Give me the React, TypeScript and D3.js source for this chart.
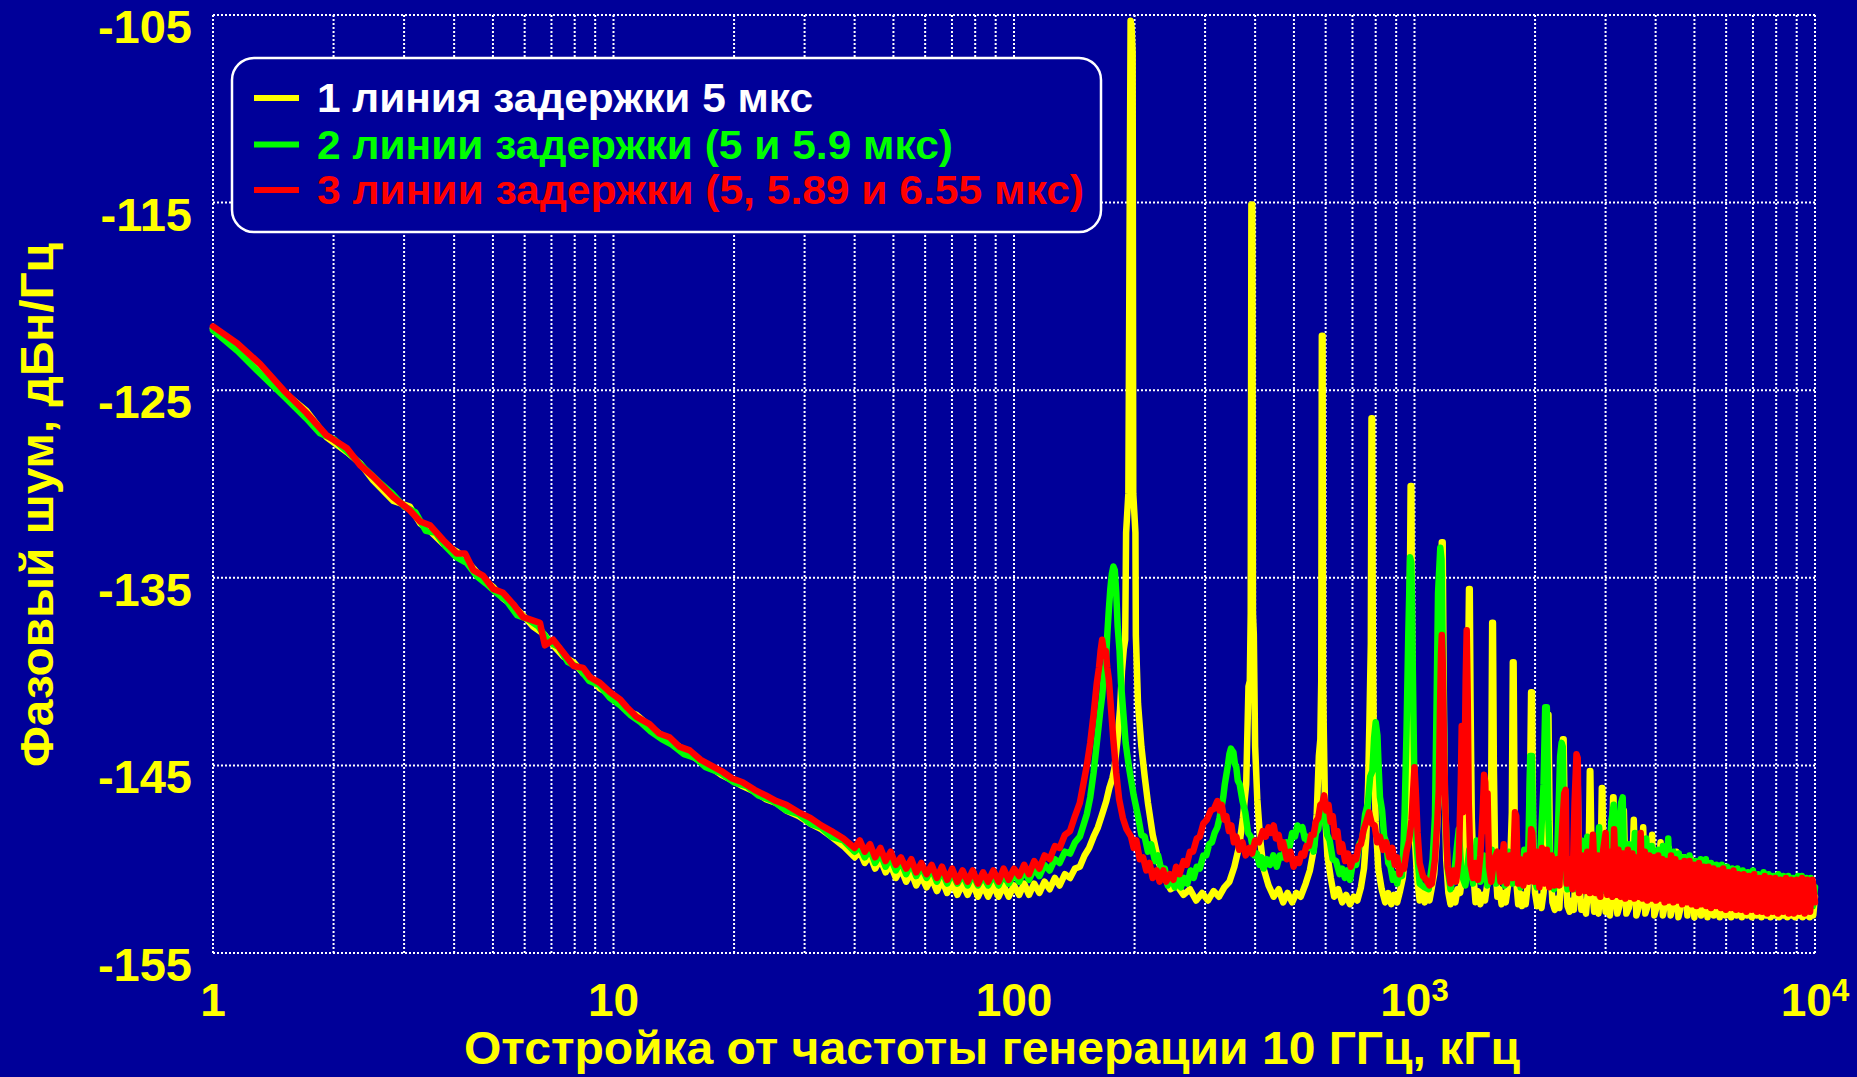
import React from 'react';
import * as d3 from 'd3';

// Phase noise of a 10 GHz oscillator with one, two and three delay lines.
// Offset frequency in kHz, phase noise in dBc/Hz.

const yTickValues = [-105, -115, -125, -135, -145, -155];
const xTickValues = [1, 10, 100, 1000, 10000];
const xTickBase = ['1', '10', '100', '10', '10'];
const xTickSup = ['', '', '', '3', '4'];

const legendLabels = [
  '1 линия задержки 5 мкс',
  '2 линии задержки (5 и 5.9 мкс)',
  '3 линии задержки (5, 5.89 и 6.55 мкс)',
];
const xTitle = 'Отстройка от частоты генерации 10 ГГц, кГц';
const yTitle = 'Фазовый шум, дБн/Гц';

type Pt = [number, number];

const yellowTrace: Pt[] = [
  [1, -121.7], [1.15, -122.7], [1.31, -123.9], [1.5, -125.1], [1.71, -126.1], [1.92, -127.5], [2.16, -128.3],
  [2.33, -128.9], [2.51, -129.8], [2.82, -130.9], [3.1, -131.2], [3.29, -132.1], [3.48, -132.5], [3.76, -133.2],
  [4.06, -133.6], [4.26, -134.0], [4.47, -134.5], [4.73, -135.1], [5.01, -135.5], [5.3, -136.1], [5.62, -136.5],
  [5.95, -137.0], [6.3, -137.6], [6.7, -138.0], [7.07, -138.6], [7.5, -139.2], [7.95, -139.5], [8.4, -140.1],
  [8.74, -140.3], [9.25, -140.9], [9.8, -141.2], [10.4, -141.6], [10.8, -142.1], [11.4, -142.3], [12.3, -142.9],
  [13.0, -143.3], [13.8, -143.7], [14.6, -144.0], [15.5, -144.4], [16.5, -144.8], [17.5, -145.1], [18.6, -145.5],
  [19.8, -145.8], [21, -146.1], [22.5, -146.4], [24, -146.8], [25.5, -147.0], [27, -147.4], [29, -147.7],
  [31, -148.1], [33, -148.4], [35, -148.8], [37.5, -149.3],
  [40, -149.9], [41.2, -149.6], [42.4, -150.2], [43.7, -149.8], [45, -150.5], [46.4, -150.0], [47.8, -150.7],
  [49.2, -150.3], [50.7, -151.0], [52.2, -150.5], [53.8, -151.2], [55.4, -150.7], [57, -151.4], [58.7, -150.9],
  [60.5, -151.5], [62.3, -151.0], [64.2, -151.7], [66.1, -151.1], [68.1, -151.8], [70.1, -151.2], [72.2, -151.9],
  [74.4, -151.3], [76.6, -151.9], [78.9, -151.3], [81.3, -152.0], [83.7, -151.4], [86.2, -152.0], [88.8, -151.4],
  [91.5, -152.0], [94.2, -151.4], [97, -152.0], [100, -151.4], [103, -151.9], [106, -151.3], [109, -151.9],
  [112.3, -151.3], [115.7, -151.8], [119.2, -151.2], [122.8, -151.6], [126.5, -151.0], [130, -151.4],
  [134, -150.8], [138, -151.0], [142, -150.5], [146, -150.4], [150, -149.8], [154, -149.4], [158, -148.8],
  [162, -148.3], [166, -147.6], [170, -146.9], [173, -146.2], [176, -145.7], [178, -145.2], [181, -143.8],
  [184, -142.0], [186, -140.0], [188, -138.8],
  [189.5, -138.3], [190.5, -132.6], [193, -130.5], [195.5, -105.3], [196.5, -105.6], [197.8, -107.0],
  [198.5, -130.5], [201, -132.6], [201.5, -138.1], [204, -141.7], [208, -144.0], [212, -145.6], [216, -147.0],
  [222, -148.7], [230, -150.2], [238, -151.0], [246, -151.6], [255, -151.4], [265, -151.9], [275, -151.6],
  [285, -152.2], [295, -151.8], [305, -152.2], [315, -151.7], [325, -152.0], [335, -151.5], [345, -151.2],
  [355, -150.4], [365, -149.3], [373, -147.8], [380, -146.0], [385, -140.8], [388, -140.5], [390, -136.9],
  [391.5, -115.1], [393.5, -115.1], [395, -136.9], [397, -138.0], [400, -144.0], [405, -146.8], [412, -149.0],
  [420, -150.5], [432, -151.4], [445, -152.0], [458, -151.6], [470, -152.3], [482, -151.8], [495, -152.3],
  [507, -151.8], [520, -152.0], [535, -151.3], [548, -150.6], [560, -149.5], [570, -147.6], [577, -144.5],
  [582, -143.6], [585, -140.5], [587, -122.1], [589.5, -122.1], [591, -140.5], [594, -143.5], [598, -147.5],
  [606, -149.8], [618, -151.0], [630, -152.0], [645, -151.6], [660, -152.3], [675, -151.9], [690, -152.4],
  [705, -152.0], [720, -152.2], [735, -151.5], [748, -150.5], [758, -148.8], [766, -146.0], [772, -142.5],
  [778, -138.5], [781, -126.5], [784, -126.5], [787, -139.0], [792, -144.2], [800, -148.0], [812, -150.5],
  [828, -151.6], [845, -152.3], [860, -151.8], [875, -152.4], [890, -151.9], [905, -152.3], [920, -151.7],
  [935, -151.0], [950, -149.5], [962, -147.0], [970, -142.5], [975, -134.0], [978, -130.1], [982, -130.1],
  [986, -139.0], [992, -145.0], [1000, -148.5], [1015, -151.0], [1030, -152.2], [1045, -151.7], [1060, -152.3],
  [1075, -151.8], [1090, -152.2], [1105, -151.5], [1120, -150.8], [1135, -149.0], [1148, -146.5],
  [1158, -141.0], [1165, -136.0], [1170, -133.1], [1176, -133.1], [1182, -140.0], [1190, -146.5],
  [1200, -150.0], [1215, -151.8], [1230, -152.4], [1248, -151.8], [1265, -152.3], [1280, -151.6],
  [1300, -151.8], [1320, -150.6], [1340, -148.5], [1355, -144.0], [1362, -139.0], [1368, -135.6],
  [1374, -135.6], [1380, -141.5], [1390, -147.8], [1405, -151.0], [1420, -152.3], [1440, -151.7],
  [1460, -152.4], [1480, -151.9], [1500, -152.2], [1520, -151.3], [1540, -149.5], [1555, -145.5],
  [1563, -137.4], [1570, -137.4], [1578, -145.0], [1590, -150.0], [1610, -152.0], [1630, -151.6],
  [1650, -152.4], [1670, -151.8], [1690, -152.3], [1710, -151.5], [1730, -150.8], [1750, -147.5],
  [1760, -139.5], [1768, -139.5], [1778, -147.5], [1795, -151.2], [1815, -152.4], [1835, -151.8],
  [1855, -152.5], [1875, -151.9], [1895, -152.4], [1915, -151.5], [1935, -149.5], [1955, -141.1],
  [1965, -141.1], [1980, -149.5], [2000, -151.8], [2025, -152.5], [2050, -152.0], [2075, -152.6],
  [2100, -151.8], [2130, -150.0], [2150, -142.3], [2160, -142.3], [2180, -150.0], [2210, -152.3],
  [2240, -152.7], [2270, -152.1], [2300, -152.6], [2325, -150.5], [2347, -143.6], [2357, -143.6],
  [2380, -150.5], [2410, -152.5], [2440, -152.8], [2470, -152.2], [2500, -152.7], [2525, -150.8],
  [2544, -144.8], [2552, -144.8], [2575, -151.0], [2610, -152.7], [2645, -152.3], [2680, -152.9],
  [2715, -151.5], [2740, -145.3], [2748, -145.3], [2775, -151.5], [2810, -152.8], [2845, -152.3],
  [2880, -152.9], [2910, -151.5], [2936, -146.2], [2944, -146.2], [2970, -151.7], [3000, -152.8],
  [3040, -152.4], [3075, -153.0], [3105, -151.6], [3132, -146.7], [3140, -146.7], [3170, -151.8],
  [3210, -152.9], [3250, -152.5], [3290, -151.8], [3332, -147.4], [3380, -152.9], [3430, -152.6],
  [3480, -151.9], [3528, -147.9], [3580, -153.0], [3626, -152.6], [3676, -152.0], [3724, -148.3],
  [3770, -152.9], [3822, -152.5], [3870, -151.9], [3920, -148.7], [3970, -153.0], [4018, -152.6],
  [4116, -149.1], [4170, -153.0], [4214, -152.5], [4312, -149.4], [4360, -153.0], [4410, -152.6],
  [4508, -149.6], [4560, -153.1], [4606, -152.7], [4704, -149.9], [4802, -153.0], [4900, -150.0],
  [4998, -153.1], [5096, -150.2], [5194, -153.0], [5292, -150.3], [5390, -153.1], [5488, -150.5],
  [5586, -153.0], [5684, -150.6], [5782, -153.1], [5880, -150.7], [5978, -153.0], [6076, -150.8],
  [6174, -153.1], [6272, -150.9], [6370, -153.0], [6468, -151.0], [6566, -153.1], [6664, -151.1],
  [6762, -153.0], [6860, -151.1], [6958, -153.1], [7056, -151.2], [7154, -153.0], [7252, -151.3],
  [7350, -153.1], [7448, -151.3], [7546, -153.0], [7644, -151.4], [7742, -153.1], [7840, -151.4],
  [7938, -153.0], [8036, -151.5], [8134, -153.1], [8232, -151.5], [8330, -153.0], [8428, -151.6],
  [8526, -153.1], [8624, -151.6], [8722, -153.0], [8820, -151.7], [8918, -153.1], [9016, -151.7],
  [9114, -153.0], [9212, -151.8], [9310, -153.1], [9408, -151.8], [9506, -153.0], [9604, -151.8],
  [9702, -153.1], [9800, -151.9], [9898, -153.0], [9996, -152.0],
];

const greenTrace: Pt[] = [
  [1, -121.8], [1.15, -122.9], [1.31, -124.1], [1.5, -125.3], [1.71, -126.5], [1.85, -127.3], [2.0, -127.6],
  [2.2, -128.4], [2.4, -129.2], [2.6, -129.9], [2.8, -130.5], [3.0, -131.2], [3.2, -131.5], [3.4, -132.5],
  [3.6, -132.6], [3.8, -133.3], [4.05, -133.9], [4.3, -134.2], [4.55, -134.9], [4.8, -135.3], [5.1, -135.8],
  [5.4, -136.2], [5.75, -137.0], [6.1, -137.2], [6.5, -137.6], [6.9, -138.4], [7.3, -138.7], [7.7, -139.5],
  [8.2, -139.8], [8.7, -140.5], [9.2, -140.7], [9.8, -141.4], [10.4, -141.8], [11.0, -142.3], [11.7, -142.7],
  [12.4, -143.2], [13.2, -143.6], [14.0, -143.9], [15.0, -144.4], [16.0, -144.6], [17.0, -145.1],
  [18.5, -145.4], [20, -145.9], [21.5, -146.1], [23, -146.6], [25, -146.9], [27, -147.4], [29, -147.6],
  [31, -148.1], [33, -148.3], [35, -148.8], [37.5, -149.0],
  [40, -149.6], [41.2, -149.3], [42.4, -149.9], [43.7, -149.5], [45, -150.2], [46.4, -149.7], [47.8, -150.4],
  [49.2, -149.9], [50.7, -150.6], [52.2, -150.1], [53.8, -150.8], [55.4, -150.2], [57, -150.9], [58.7, -150.4],
  [60.5, -151.0], [62.3, -150.5], [64.2, -151.2], [66.1, -150.6], [68.1, -151.3], [70.1, -150.7], [72.2, -151.3],
  [74.4, -150.8], [76.6, -151.4], [78.9, -150.8], [81.3, -151.4], [83.7, -150.9], [86.2, -151.4], [88.8, -150.8],
  [91.5, -151.4], [94.2, -150.8], [97, -151.3], [100, -150.8], [103, -151.2], [106, -150.6], [109, -151.1],
  [112.3, -150.5], [115.7, -150.9], [119.2, -150.3], [122.8, -150.6], [126.5, -150.0], [130, -150.2],
  [134, -149.6], [138, -149.7], [142, -149.1], [146, -148.8], [149, -148.2], [152, -147.6], [155, -146.7],
  [158, -145.4], [161, -143.8], [164, -142.2], [166, -141.3], [168, -140.0], [169.5, -139.6], [171, -138.0],
  [172.5, -136.7], [174, -135.6], [175.5, -134.8], [177, -134.4], [178.5, -134.6], [180, -135.8],
  [181.5, -137.6], [183.5, -138.9], [185, -140.6], [187, -141.9], [190, -143.8], [194, -145.2],
  [199, -146.6], [204, -147.7], [208, -148.7], [212, -148.8], [216, -149.6], [220, -149.2], [225, -150.1],
  [229, -149.8], [234, -150.7], [238, -150.5], [242, -151.4], [247, -150.9], [252, -151.5], [256, -150.9],
  [261, -151.5], [266, -151.0], [271, -151.3], [276, -150.6], [281, -151.0], [286, -150.4], [291, -150.5],
  [297, -149.8], [302, -149.8], [307, -149.2], [312, -149.1], [317, -148.6], [322, -148.3], [326, -147.8],
  [330, -147.2], [333, -146.7], [336, -146.0], [339, -145.5], [342, -145.0], [345, -144.4], [348, -144.1],
  [350, -144.2], [353, -144.3], [356, -144.9], [359, -145.1], [362, -145.8], [366, -146.0], [372, -146.9],
  [378, -147.5], [384, -148.6], [390, -148.8], [398, -149.8], [404, -149.7], [410, -150.3], [415, -149.9],
  [420, -150.5], [428, -150.0], [436, -150.3], [444, -149.8], [453, -150.4], [461, -149.8], [470, -149.9],
  [479, -149.1], [488, -149.3], [495, -148.6], [503, -148.8], [510, -148.2], [518, -148.4], [525, -148.3],
  [532, -148.9], [538, -148.8], [545, -149.4], [552, -149.0], [560, -149.6], [567, -148.6], [575, -148.4],
  [582, -147.5], [590, -147.2], [597, -147.6], [605, -148.7], [614, -149.0], [625, -150.0], [637, -150.1],
  [650, -150.8], [660, -150.5], [670, -151.0], [680, -150.6], [690, -151.1], [702, -150.2], [715, -150.3],
  [728, -149.2], [741, -148.9], [753, -147.6], [765, -147.0], [775, -145.6], [785, -145.3], [793, -143.5],
  [800, -142.7], [808, -143.4], [814, -145.2], [820, -146.7], [830, -147.4], [840, -148.8], [850, -149.1],
  [860, -150.2], [871, -150.4], [883, -151.1], [894, -150.8], [905, -151.3], [918, -150.6], [930, -150.9],
  [940, -149.0], [945, -147.5], [955, -143.3], [965, -138.0], [975, -133.9], [982, -134.2], [990, -139.7],
  [998, -145.0], [1010, -149.0], [1030, -151.3], [1060, -151.5], [1085, -151.6], [1110, -150.0],
  [1125, -147.7], [1135, -142.0], [1145, -135.8], [1160, -133.4], [1168, -134.0], [1180, -141.0],
  [1192, -147.0], [1210, -150.5], [1230, -151.6], [1260, -150.5], [1290, -148.4], [1310, -150.8],
  [1340, -151.4], [1370, -149.5], [1400, -151.3], [1430, -149.0], [1460, -151.2], [1490, -149.8],
  [1520, -151.4], [1560, -149.5], [1600, -151.3], [1640, -149.8], [1680, -151.4], [1720, -149.6],
  [1760, -151.3], [1800, -149.9], [1840, -151.5], [1880, -149.5], [1920, -150.5], [1945, -144.5],
  [1965, -144.5], [1985, -150.8], [2020, -151.5], [2060, -149.8], [2100, -146.0], [2120, -141.9],
  [2140, -141.9], [2160, -148.0], [2190, -151.2], [2230, -151.6], [2270, -150.0], [2310, -144.5],
  [2330, -143.8], [2345, -144.0], [2370, -150.5], [2410, -151.6], [2450, -150.0], [2490, -151.6],
  [2530, -149.5], [2570, -151.7], [2610, -149.0], [2650, -151.5], [2700, -148.8], [2740, -151.6],
  [2790, -149.2], [2840, -151.6], [2890, -148.3], [2940, -151.7], [2990, -149.6], [3040, -151.7],
  [3100, -148.0], [3143, -147.1], [3180, -151.5], [3230, -148.5], [3280, -147.0], [3310, -146.7],
  [3340, -150.5], [3380, -151.8], [3430, -149.2], [3490, -151.8], [3550, -148.6], [3610, -151.8],
  [3670, -149.0], [3730, -151.9], [3790, -148.9], [3850, -151.9], [3910, -149.3], [3980, -152.0],
  [4050, -149.5], [4110, -151.9], [4170, -149.3], [4240, -152.0], [4300, -148.9], [4360, -152.0],
  [4430, -149.6], [4500, -152.0], [4570, -149.7], [4640, -152.1], [4710, -149.9], [4780, -152.0],
  [4860, -149.8], [4940, -152.1], [5020, -150.1], [5100, -152.1], [5180, -150.0], [5260, -152.2],
  [5340, -150.0], [5420, -152.2], [5500, -150.2], [5580, -152.2], [5670, -150.3], [5760, -152.2],
  [5850, -150.3], [5940, -152.3], [6030, -150.4], [6120, -152.2], [6210, -150.5], [6300, -152.3],
  [6400, -150.5], [6500, -152.3], [6600, -150.6], [6700, -152.3], [6800, -150.7], [6900, -152.4],
  [7000, -150.6], [7110, -152.3], [7220, -150.8], [7330, -152.4], [7440, -150.7], [7550, -152.4],
  [7660, -150.8], [7770, -152.4], [7880, -150.9], [7990, -152.5], [8100, -150.8], [8220, -152.4],
  [8340, -150.9], [8460, -152.5], [8580, -150.9], [8700, -152.4], [8820, -151.0], [8940, -152.5],
  [9060, -150.9], [9180, -152.4], [9270, -150.9], [9400, -152.5], [9520, -151.0], [9640, -152.4],
  [9760, -151.0], [9880, -152.5], [10000, -151.5],
];

const redTrace: Pt[] = [
  [1, -121.6], [1.15, -122.5], [1.31, -123.6], [1.5, -125.0], [1.71, -126.2], [1.92, -127.4], [2.16, -128.1],
  [2.33, -129.0], [2.51, -129.6], [2.82, -130.7], [3.1, -131.4], [3.29, -132.0], [3.48, -132.2], [3.76, -133.0],
  [4.06, -133.7], [4.26, -133.7], [4.47, -134.6], [4.73, -134.9], [5.01, -135.6], [5.3, -135.8], [5.62, -136.4],
  [5.95, -137.1], [6.55, -137.4], [6.74, -138.6], [7.07, -138.3], [7.5, -139.0], [7.95, -139.7], [8.4, -139.8],
  [8.74, -140.3], [9.25, -140.6], [9.8, -141.1], [10.4, -141.5], [10.8, -141.9], [11.4, -142.4],
  [12.3, -142.8], [13.0, -143.3], [13.8, -143.5], [14.6, -144.0], [15.5, -144.2], [16.5, -144.7],
  [17.5, -145.0], [18.6, -145.3], [19.8, -145.7], [21, -145.9], [22.5, -146.3], [24, -146.6], [25.5, -146.9],
  [27, -147.1], [29, -147.5], [31, -147.8], [33, -148.2], [35, -148.5], [37.5, -148.9],
  [40, -149.4], [41.2, -149.0], [42.4, -149.6], [43.7, -149.2], [45, -149.9], [46.4, -149.4], [47.8, -150.1],
  [49.2, -149.6], [50.7, -150.3], [52.2, -149.9], [53.8, -150.5], [55.4, -150.0], [57, -150.7], [58.7, -150.2],
  [60.5, -150.8], [62.3, -150.3], [64.2, -151.0], [66.1, -150.4], [68.1, -151.1], [70.1, -150.5], [72.2, -151.2],
  [74.4, -150.6], [76.6, -151.2], [78.9, -150.6], [81.3, -151.3], [83.7, -150.7], [86.2, -151.2], [88.8, -150.6],
  [91.5, -151.2], [94.2, -150.5], [97, -151.1], [100, -150.5], [103, -150.9], [106, -150.3], [109, -150.8],
  [112.3, -150.1], [115.7, -150.5], [119.2, -149.8], [122.8, -150.0], [126.5, -149.3], [130, -149.4],
  [134, -148.7], [138, -148.5], [142, -147.7], [146, -147.0], [149, -146.0], [152, -145.0],
  [155, -143.8], [158, -142.3], [161, -140.6], [163, -139.8], [164.5, -138.9], [166, -138.3],
  [167.5, -138.9], [169.5, -138.9], [171, -139.8], [172.5, -140.4], [175, -142.2], [177, -143.6],
  [180, -145.4], [183, -146.8], [187, -147.8], [191, -148.4], [196, -148.8], [199, -149.4], [202, -149.0],
  [206, -150.0], [210, -149.9], [214, -150.6], [218, -150.2], [222, -151.0], [227, -150.6], [231, -151.2],
  [236, -150.6], [240, -151.2], [245, -150.8], [250, -151.1], [254, -150.4], [259, -150.8], [265, -150.1],
  [270, -150.3], [275, -149.6], [280, -149.6], [286, -148.9], [291, -148.8], [297, -148.1], [303, -147.9],
  [310, -147.4], [316, -147.3], [322, -146.9], [326, -147.4], [330, -147.1], [335, -147.9], [339, -147.7],
  [344, -148.5], [349, -148.2], [354, -149.1], [359, -148.8], [365, -149.5], [372, -149.1], [379, -149.8],
  [387, -149.4], [393, -149.7], [400, -149.0], [409, -149.1], [418, -148.5], [425, -148.8], [432, -148.3],
  [438, -148.6], [445, -148.2], [451, -148.9], [458, -148.7], [464, -149.4], [470, -149.1], [480, -150.0],
  [490, -149.6], [499, -150.4], [508, -150.0], [515, -150.2], [522, -149.7], [530, -149.8], [537, -149.3],
  [545, -149.3], [552, -148.7], [560, -148.7], [567, -148.0], [575, -147.8], [582, -147.1], [589, -147.0],
  [595, -146.6], [602, -147.4], [610, -147.1], [617, -148.0], [625, -147.7], [633, -148.8], [642, -148.5],
  [651, -149.6], [660, -149.2], [671, -150.1], [682, -149.7], [693, -150.4], [705, -149.9], [715, -150.0],
  [725, -149.3], [735, -149.2], [745, -148.5], [758, -148.0], [770, -147.5], [782, -148.1], [795, -148.2],
  [807, -149.1], [820, -148.8], [835, -149.5], [850, -149.1], [865, -149.9], [880, -149.4], [893, -150.3],
  [905, -149.9], [918, -150.8], [930, -150.4], [942, -150.5], [955, -149.6], [970, -149.0], [983, -147.9],
  [992, -146.4], [1000, -145.1], [1008, -146.5], [1018, -148.6], [1030, -150.2], [1050, -150.9],
  [1070, -151.1], [1090, -151.4], [1105, -151.3], [1125, -150.0], [1140, -148.0], [1150, -146.3],
  [1158, -142.0], [1165, -139.0], [1170, -138.05], [1176, -139.5], [1184, -143.5], [1195, -147.5],
  [1210, -150.4], [1230, -151.3], [1250, -150.6], [1270, -151.2], [1290, -150.0], [1305, -146.0],
  [1312, -142.9], [1320, -147.5], [1332, -146.0], [1342, -140.5], [1350, -137.8], [1358, -141.5],
  [1366, -147.0], [1380, -150.3], [1400, -151.0], [1420, -150.2], [1440, -151.1], [1460, -149.8],
  [1480, -147.5], [1492, -145.5], [1502, -145.9], [1512, -148.5], [1522, -146.5], [1535, -150.4],
  [1555, -151.2], [1580, -150.0], [1610, -149.6], [1640, -151.2], [1670, -149.2], [1700, -151.3],
  [1730, -149.8], [1760, -151.0], [1782, -147.5], [1795, -147.7], [1815, -151.3], [1840, -150.0],
  [1870, -151.4], [1900, -149.8], [1930, -151.2], [1955, -148.4], [1968, -148.6], [1990, -151.2],
  [2020, -149.6], [2050, -151.5], [2080, -149.4], [2110, -151.3], [2140, -149.5], [2170, -151.5],
  [2200, -149.8], [2235, -151.4], [2270, -150.0], [2300, -151.4], [2335, -148.5], [2365, -146.5],
  [2385, -146.3], [2400, -151.3], [2440, -150.0], [2480, -151.6], [2510, -147.0], [2538, -144.4],
  [2556, -144.6], [2575, -151.8], [2620, -149.8], [2660, -151.7], [2700, -149.6], [2740, -151.8],
  [2790, -148.7], [2830, -151.8], [2870, -149.8], [2910, -152.0], [2960, -149.5], [3000, -148.6],
  [3030, -151.9], [3080, -149.6], [3120, -152.0], [3150, -148.4], [3190, -151.9], [3230, -149.5],
  [3270, -152.0], [3320, -149.7], [3360, -152.1], [3410, -149.5], [3450, -152.0], [3500, -149.7],
  [3540, -152.1], [3600, -149.9], [3640, -152.0], [3670, -148.6], [3710, -152.1], [3760, -149.6],
  [3810, -152.2], [3860, -149.8], [3910, -152.1], [3960, -149.9], [4010, -152.2], [4060, -149.8],
  [4110, -152.1], [4160, -150.0], [4210, -152.3], [4260, -150.1], [4320, -152.2], [4370, -149.8],
  [4430, -152.3], [4480, -150.0], [4540, -152.2], [4600, -150.2], [4660, -152.4], [4720, -150.1],
  [4790, -152.3], [4860, -150.1], [4920, -152.4], [4990, -150.3], [5060, -152.5], [5130, -150.2],
  [5200, -152.4], [5270, -150.4], [5350, -152.5], [5420, -150.4], [5500, -152.6], [5580, -150.5],
  [5660, -152.5], [5740, -150.6], [5820, -152.6], [5900, -150.5], [5990, -152.7], [6080, -150.7],
  [6170, -152.6], [6260, -150.6], [6350, -152.7], [6440, -150.8], [6540, -152.7], [6640, -150.8],
  [6740, -152.8], [6840, -150.9], [6940, -152.7], [7050, -150.8], [7160, -152.8], [7270, -151.0],
  [7380, -152.8], [7490, -150.9], [7600, -152.9], [7720, -151.0], [7840, -152.8], [7960, -151.0],
  [8080, -152.9], [8200, -151.1], [8330, -152.8], [8460, -151.0], [8590, -152.9], [8720, -151.1],
  [8860, -152.9], [9000, -151.1], [9140, -152.8], [9280, -151.0], [9420, -152.9], [9570, -151.1],
  [9720, -152.8], [9860, -151.1], [10000, -152.3],
];

const seriesTraces = [yellowTrace, greenTrace, redTrace];
const seriesColors = ['#ffff00', '#00ff00', '#ff0000'];
const legendTextColors = ['#ffffff', '#00ff00', '#ff0000'];

const WIDTH = 1857;
const HEIGHT = 1077;
const BG = '#000099';
const FONT = '"Liberation Sans", Arial, Helvetica, sans-serif';

export default function App() {
  const margin = { left: 213, right: 1815, top: 15, bottom: 953 };
  const x = d3.scaleLog().domain([1, 10000]).range([margin.left, margin.right]);
  const y = d3.scaleLinear().domain([-155, -105]).range([margin.bottom, margin.top]);
  const line = d3
    .line<Pt>()
    .x((d) => x(d[0]))
    .y((d) => y(d[1]));

  // every 1..9 multiple of each decade, plus the last decade edge
  const xGrid: number[] = [];
  [1, 10, 100, 1000].forEach((dec) => {
    for (let k = 1; k <= 9; k++) xGrid.push(dec * k);
  });
  xGrid.push(10000);

  const legendBox = { x: 232, y: 58, w: 869, h: 174 };
  const legendRows = [98, 144.5, 190];
  const legendTextLen = [496, 636, 767];

  return (
    <svg
      width={WIDTH}
      height={HEIGHT}
      viewBox={`0 0 ${WIDTH} ${HEIGHT}`}
      style={{ position: 'absolute', left: 0, top: 0, display: 'block' }}
      fontFamily={FONT}
      fontWeight="bold"
    >
      <rect x={0} y={0} width={WIDTH} height={HEIGHT} fill={BG} />

      {/* dotted grid */}
      <g stroke="#ffffff" strokeWidth={2} strokeDasharray="2 2" fill="none">
        {xGrid.map((v) => (
          <line key={`gx${v}`} x1={x(v)} x2={x(v)} y1={margin.top} y2={margin.bottom} />
        ))}
        {yTickValues.map((v) => (
          <line key={`gy${v}`} x1={margin.left} x2={margin.right} y1={y(v)} y2={y(v)} />
        ))}
      </g>

      {/* noise traces */}
      <g fill="none" strokeWidth={6.5} strokeLinejoin="round" strokeLinecap="round">
        {seriesTraces.map((tr, i) => (
          <path key={`s${i}`} d={line(tr) || ''} stroke={seriesColors[i]} />
        ))}
      </g>

      {/* legend */}
      <rect
        x={legendBox.x}
        y={legendBox.y}
        width={legendBox.w}
        height={legendBox.h}
        rx={22}
        ry={22}
        fill={BG}
        stroke="#ffffff"
        strokeWidth={2.5}
      />
      {legendLabels.map((lab, i) => (
        <g key={`lg${i}`}>
          <line x1={254} x2={299} y1={legendRows[i]} y2={legendRows[i]} stroke={seriesColors[i]} strokeWidth={6} />
          <text
            x={317}
            y={legendRows[i] + 14}
            fontSize={41}
            fill={legendTextColors[i]}
            textLength={legendTextLen[i]}
            lengthAdjust="spacingAndGlyphs"
          >
            {lab}
          </text>
        </g>
      ))}

      {/* y tick labels */}
      {yTickValues.map((v) => (
        <text key={`ty${v}`} x={192} y={y(v) + 28} textAnchor="end" fontSize={47} fill="#ffff00">
          {String(v)}
        </text>
      ))}

      {/* x tick labels */}
      {xTickValues.map((v, i) => (
        <text key={`tx${v}`} x={x(v)} y={1016} textAnchor="middle" fontSize={46} fill="#ffff00">
          {xTickBase[i]}
          {xTickSup[i] ? (
            <tspan fontSize={31} dy={-15}>
              {xTickSup[i]}
            </tspan>
          ) : null}
        </text>
      ))}

      {/* axis titles */}
      <text
        x={992}
        y={1064}
        textAnchor="middle"
        fontSize={46}
        fill="#ffff00"
        textLength={1056}
        lengthAdjust="spacingAndGlyphs"
      >
        {xTitle}
      </text>
      <text
        transform="translate(53,505) rotate(-90)"
        textAnchor="middle"
        fontSize={47}
        fill="#ffff00"
        textLength={524}
        lengthAdjust="spacingAndGlyphs"
      >
        {yTitle}
      </text>
    </svg>
  );
}
